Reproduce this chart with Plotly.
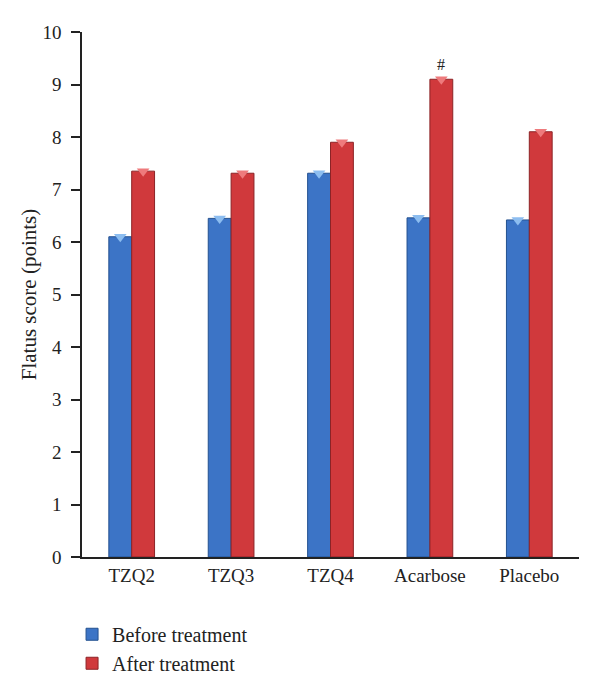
import plotly.graph_objects as go

categories = ["TZQ2", "TZQ3", "TZQ4", "Acarbose", "Placebo"]
before = [6.1, 6.45, 7.31, 6.46, 6.42]
after = [7.35, 7.31, 7.9, 9.1, 8.1]
y_ticks = list(range(0, 11))

font_family = "Liberation Serif, Times New Roman, serif"

fig = go.Figure()
fig.add_trace(go.Bar(
    x=categories, y=before, name="Before treatment", offsetgroup="before",
    marker=dict(color="#3C74C6", line=dict(color="#23508F", width=1)),
))
fig.add_trace(go.Bar(
    x=categories, y=after, name="After treatment", offsetgroup="after",
    marker=dict(color="#D0393C", line=dict(color="#8C2326", width=1)),
))
# lighter top caps of the pseudo-3D bars
fig.add_trace(go.Scatter(
    x=categories, y=before, mode="markers", offsetgroup="before", showlegend=False,
    hoverinfo="skip",
    marker=dict(symbol="triangle-down", size=11, color="#8CBDF0", line=dict(width=0)),
))
fig.add_trace(go.Scatter(
    x=categories, y=after, mode="markers", offsetgroup="after", showlegend=False,
    hoverinfo="skip",
    marker=dict(symbol="triangle-down", size=11, color="#EE7A7C", line=dict(width=0)),
))

fig.add_annotation(x=categories[3], y=after[3], text="#", showarrow=False,
                   xshift=11, yshift=15, font=dict(size=16, color="#222"))

# page has an 8px body margin; figure sized to fill the 600x696 window
fig.update_layout(
    width=592, height=688,
    margin=dict(l=74, r=21, t=24, b=139),
    paper_bgcolor="white", plot_bgcolor="white",
    barmode="group", bargap=0.54, bargroupgap=0.0,
    scattermode="group", scattergap=0.54,
    font=dict(family=font_family, size=19, color="#222"),
    showlegend=True,
    legend=dict(orientation="v", x=-0.02, xanchor="left", y=-0.11, yanchor="top",
                font=dict(size=20), tracegroupgap=2, itemwidth=30),
    xaxis=dict(showline=True, linecolor="#222", linewidth=1.5, ticks="",
               tickfont=dict(size=19), showgrid=False, automargin=False),
    yaxis=dict(range=[0, 10], tickvals=y_ticks, showline=True, linecolor="#222",
               linewidth=1.5, ticks="outside", ticklen=9, tickcolor="#222",
               tickwidth=1.5, showgrid=False, zeroline=False, automargin=False,
               tickfont=dict(size=19), ticklabelstandoff=6,
               title=dict(text="Flatus score (points)", font=dict(size=21), standoff=0)),
)

fig.write_html("out.html")
